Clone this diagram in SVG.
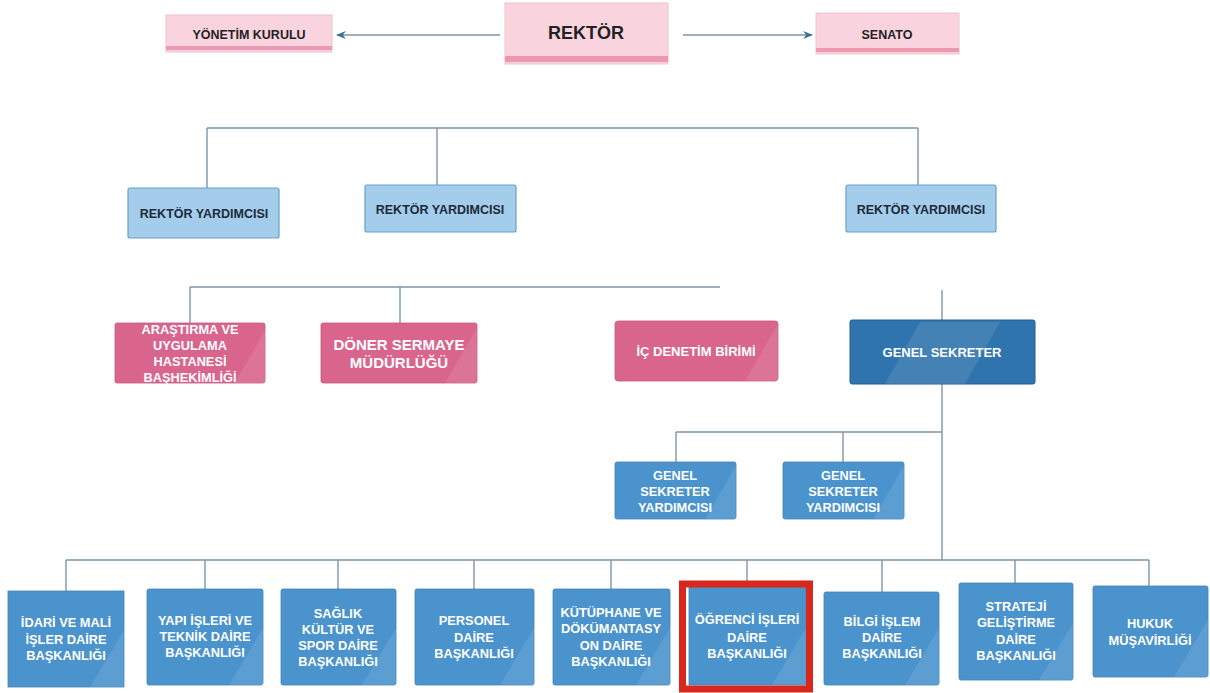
<svg xmlns="http://www.w3.org/2000/svg" width="1210" height="693" viewBox="0 0 1210 693">
<defs>
<style>
text{font-family:"Liberation Sans",Arial,sans-serif;font-weight:bold;text-anchor:middle}
.pk{fill:#f9d4df;stroke:#eec3cf;stroke-width:1}
.band{fill:#ec98b0}
.dk{font-size:12.5px;fill:#222}
.ry{fill:#a3cdeb;stroke:#6a9fc9;stroke-width:1.2}
.ryt{font-size:12.5px;fill:#1d2a3a}
.mg{fill:#d9658d;stroke:#c9587f;stroke-width:0.8}
.gs{fill:#2f74ad;stroke:#255f90;stroke-width:1}
.bl{fill:#4a93cc;stroke:#3f84ba;stroke-width:0.8}
.wt{font-size:12.8px;fill:#ffffff}
.gloss{fill:#ffffff;opacity:0.10}
.ln{stroke:#7d96aa;stroke-width:1.4;fill:none}
</style>
<marker id="ah" viewBox="0 0 10 10" refX="9" refY="5" markerWidth="7" markerHeight="7" orient="auto-start-reverse">
<path d="M0,1 L10,5 L0,9 L3,5 Z" fill="#3f6f96"/>
</marker>
</defs>
<rect width="1210" height="693" fill="#ffffff"/>

<g id="connectors">
<line class="ln" x1="500" y1="35" x2="337" y2="35" marker-end="url(#ah)" stroke="#b9c8d4"/>
<line class="ln" x1="683" y1="35" x2="812" y2="35" marker-end="url(#ah)" stroke="#b9c8d4"/>
<line class="ln" x1="207" y1="128" x2="918" y2="128"/>
<line class="ln" x1="207" y1="128" x2="207" y2="188"/>
<line class="ln" x1="437" y1="128" x2="437" y2="185"/>
<line class="ln" x1="918" y1="128" x2="918" y2="185"/>
<line class="ln" x1="190" y1="287" x2="720" y2="287"/>
<line class="ln" x1="190" y1="287" x2="190" y2="323"/>
<line class="ln" x1="400" y1="287" x2="400" y2="323"/>
<line class="ln" x1="942" y1="290" x2="942" y2="320"/>
<line class="ln" x1="942" y1="384" x2="942" y2="560"/>
<line class="ln" x1="676" y1="432" x2="942" y2="432"/>
<line class="ln" x1="676" y1="432" x2="676" y2="462"/>
<line class="ln" x1="843" y1="432" x2="843" y2="462"/>
<line class="ln" x1="66" y1="560" x2="1149" y2="560"/>
<line class="ln" x1="66" y1="560" x2="66" y2="591"/>
<line class="ln" x1="205" y1="560" x2="205" y2="589"/>
<line class="ln" x1="338" y1="560" x2="338" y2="589"/>
<line class="ln" x1="474" y1="560" x2="474" y2="589"/>
<line class="ln" x1="611" y1="560" x2="611" y2="589"/>
<line class="ln" x1="747" y1="560" x2="747" y2="584"/>
<line class="ln" x1="882" y1="560" x2="882" y2="592"/>
<line class="ln" x1="1015" y1="560" x2="1015" y2="583"/>
<line class="ln" x1="1149" y1="560" x2="1149" y2="586"/>
</g>

<g id="yonetim">
<rect class="pk" x="166" y="15" width="166" height="37"/>
<rect class="band" x="166" y="46" width="166" height="4"/>
<text class="dk" x="249" y="39">YÖNETİM KURULU</text>
</g>
<g id="rektor">
<rect class="pk" x="505" y="3" width="163" height="61"/>
<rect class="band" x="505" y="56" width="163" height="6"/>
<text x="586" y="39" font-size="18" fill="#222">REKTÖR</text>
</g>
<g id="senato">
<rect class="pk" x="816" y="13" width="143" height="41"/>
<rect class="band" x="816" y="48" width="143" height="4"/>
<text class="dk" x="887" y="39">SENATO</text>
</g>

<g id="ry1">
<rect class="ry" x="128" y="188" width="151" height="50" rx="2"/>
<text class="ryt" x="204" y="218">REKTÖR YARDIMCISI</text>
</g>
<g id="ry2">
<rect class="ry" x="365" y="185" width="151" height="47" rx="2"/>
<text class="ryt" x="440" y="214">REKTÖR YARDIMCISI</text>
</g>
<g id="ry3">
<rect class="ry" x="846" y="185" width="150" height="47" rx="2"/>
<text class="ryt" x="921" y="214">REKTÖR YARDIMCISI</text>
</g>

<g id="arastirma">
<rect class="mg" x="115" y="323" width="150" height="60" rx="2"/>
<polygon class="gloss" points="235,383 265,330 265,383"/>
<text class="wt" x="190" y="334">ARAŞTIRMA VE</text>
<text class="wt" x="190" y="350">UYGULAMA</text>
<text class="wt" x="190" y="366">HASTANESİ</text>
<text class="wt" x="190" y="382">BAŞHEKİMLİĞİ</text>
</g>
<g id="doner">
<rect class="mg" x="321" y="323" width="156" height="60" rx="2"/>
<polygon class="gloss" points="445,383 477,328 477,383"/>
<text x="399" y="350" font-size="15" fill="#ffffff">DÖNER SERMAYE</text>
<text x="399" y="368" font-size="15" fill="#ffffff">MÜDÜRLÜĞÜ</text>
</g>
<g id="icdenetim">
<rect class="mg" x="615" y="321" width="163" height="60" rx="3"/>
<polygon class="gloss" points="745,381 778,324 778,381"/>
<text x="696" y="356" font-size="13" fill="#ffffff">İÇ DENETİM BİRİMİ</text>
</g>
<g id="genelsekreter">
<rect class="gs" x="850" y="320" width="185" height="64" rx="2"/>
<polygon class="gloss" points="885,384 920,322 1000,322 965,384"/>
<text x="942" y="357" font-size="13" fill="#ffffff">GENEL SEKRETER</text>
</g>

<g id="gsy1">
<rect class="bl" x="615" y="462" width="121" height="57" rx="2"/>
<polygon class="gloss" points="705,519 736,466 736,519"/>
<text class="wt" x="675" y="480">GENEL</text>
<text class="wt" x="675" y="496">SEKRETER</text>
<text class="wt" x="675" y="512">YARDIMCISI</text>
</g>
<g id="gsy2">
<rect class="bl" x="783" y="462" width="121" height="57" rx="2"/>
<polygon class="gloss" points="873,519 904,466 904,519"/>
<text class="wt" x="843" y="480">GENEL</text>
<text class="wt" x="843" y="496">SEKRETER</text>
<text class="wt" x="843" y="512">YARDIMCISI</text>
</g>

<g id="idari">
<rect class="bl" x="8" y="591" width="116" height="96"/>
<polygon class="gloss" points="90,687 124,630 124,687"/>
<text class="wt" x="66" y="627">İDARİ VE MALİ</text>
<text class="wt" x="66" y="644">İŞLER DAİRE</text>
<text class="wt" x="66" y="660">BAŞKANLIĞI</text>
</g>
<g id="yapi">
<rect class="bl" x="147" y="589" width="116" height="96" rx="2"/>
<polygon class="gloss" points="229,685 263,628 263,685"/>
<text class="wt" x="205" y="625">YAPI İŞLERİ VE</text>
<text class="wt" x="205" y="641">TEKNİK DAİRE</text>
<text class="wt" x="205" y="657">BAŞKANLIĞI</text>
</g>
<g id="saglik">
<rect class="bl" x="281" y="589" width="115" height="96" rx="2"/>
<polygon class="gloss" points="362,685 396,628 396,685"/>
<text class="wt" x="338" y="618">SAĞLIK</text>
<text class="wt" x="338" y="634">KÜLTÜR VE</text>
<text class="wt" x="338" y="650">SPOR DAİRE</text>
<text class="wt" x="338" y="666">BAŞKANLIĞI</text>
</g>
<g id="personel">
<rect class="bl" x="415" y="589" width="119" height="96" rx="2"/>
<polygon class="gloss" points="500,685 534,628 534,685"/>
<text class="wt" x="474" y="625">PERSONEL</text>
<text class="wt" x="474" y="642">DAİRE</text>
<text class="wt" x="474" y="658">BAŞKANLIĞI</text>
</g>
<g id="kutuphane">
<rect class="bl" x="553" y="589" width="117" height="96" rx="2"/>
<polygon class="gloss" points="636,685 670,628 670,685"/>
<text class="wt" x="611" y="617">KÜTÜPHANE VE</text>
<text class="wt" x="611" y="633">DÖKÜMANTASY</text>
<text class="wt" x="611" y="650">ON DAİRE</text>
<text class="wt" x="611" y="666">BAŞKANLIĞI</text>
</g>
<g id="ogrenci">
<rect class="bl" x="689" y="587" width="117" height="98"/>
<polygon class="gloss" points="772,685 806,628 806,685"/>
<rect x="682.5" y="584" width="127" height="105" fill="none" stroke="#d8271d" stroke-width="7"/>
<text class="wt" x="747" y="624">ÖĞRENCİ İŞLERİ</text>
<text class="wt" x="747" y="642">DAİRE</text>
<text class="wt" x="747" y="658">BAŞKANLIĞI</text>
</g>
<g id="bilgi">
<rect class="bl" x="824" y="592" width="115" height="93" rx="2"/>
<polygon class="gloss" points="905,685 939,628 939,685"/>
<text class="wt" x="882" y="626">BİLGİ İŞLEM</text>
<text class="wt" x="882" y="642">DAİRE</text>
<text class="wt" x="882" y="658">BAŞKANLIĞI</text>
</g>
<g id="strateji">
<rect class="bl" x="959" y="583" width="114" height="97" rx="2"/>
<polygon class="gloss" points="1039,680 1073,623 1073,680"/>
<text class="wt" x="1016" y="611">STRATEJİ</text>
<text class="wt" x="1016" y="627">GELİŞTİRME</text>
<text class="wt" x="1016" y="644">DAİRE</text>
<text class="wt" x="1016" y="660">BAŞKANLIĞI</text>
</g>
<g id="hukuk">
<rect class="bl" x="1093" y="586" width="115" height="91" rx="2"/>
<polygon class="gloss" points="1174,677 1208,620 1208,677"/>
<text class="wt" x="1150" y="628">HUKUK</text>
<text class="wt" x="1150" y="645">MÜŞAVİRLİĞİ</text>
</g>
</svg>
